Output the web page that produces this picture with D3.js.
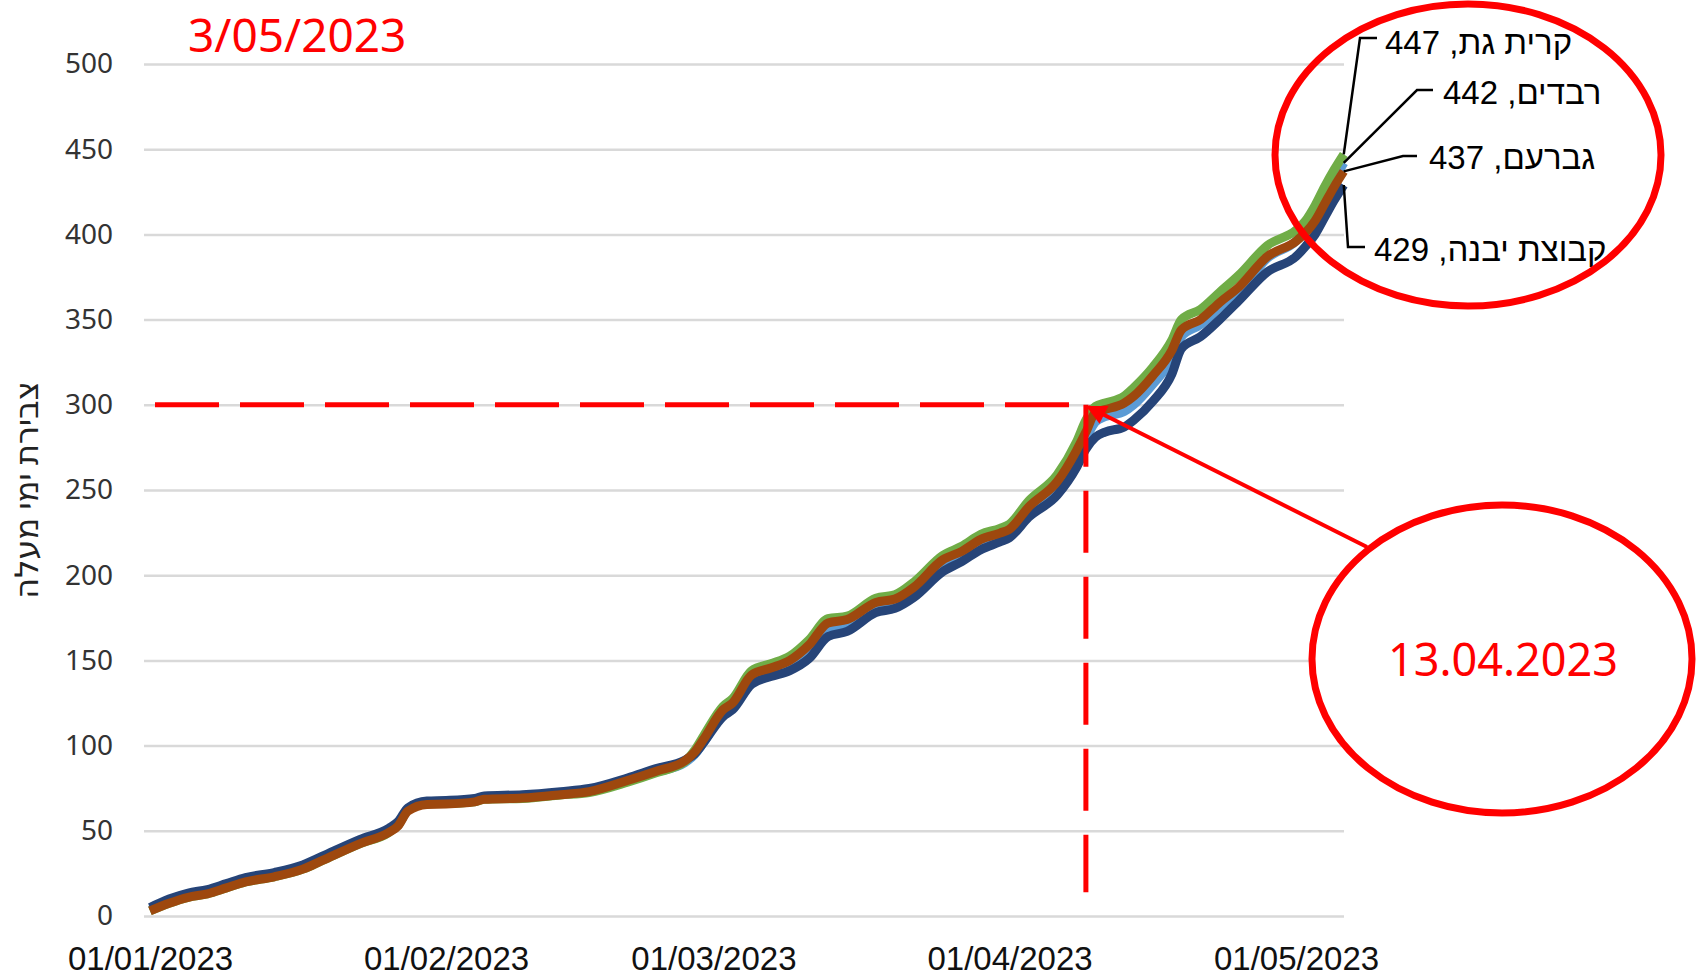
<!DOCTYPE html>
<html>
<head>
<meta charset="utf-8">
<script src="https://cdn.jsdelivr.net/npm/d3@7"></script>
<style>
  body { margin: 0; background: #fff; }
  svg { display: block; }
</style>
</head>
<body>
<svg id="chart"></svg>
<script>
// ---- data ----
const START_DATE = "2023-01-01";
// day offsets from START_DATE
const DAY_OFFSETS = [0, 2, 4, 6, 8, 10, 13, 16, 18, 22, 25, 26, 27, 29, 31, 34, 35, 39, 43, 46, 50, 53, 56, 57, 58, 60,
  61, 63, 65, 67, 69, 71, 73, 76, 78, 80, 83, 85, 87, 89, 90, 92, 95, 97, 98, 99, 100, 102, 103, 105, 107,
  108, 110, 112, 114, 117, 120, 121, 122, 123, 124, 125];

const REVADIM = [3.5, 8, 11.5, 13.5, 17, 20.5, 23.5, 28, 33, 43, 49.5, 53.5, 62, 66, 66.2, 67.5, 69, 69.7, 71.7, 73.5, 79.5,
  84.5, 90, 94.5, 102, 119, 123, 139, 143, 147.5, 156, 169, 171, 181.5, 183.5, 190.5, 206, 211.5, 218.5, 222.5, 225,
  238, 252, 269, 280, 290, 293, 296, 300, 312, 327, 340, 347, 357, 366, 386, 396, 402, 411, 421, 432, 442];
const KIRYAT_GAT = [3, 7.5, 11, 13, 16.5, 20, 23, 27.5, 32.5, 42.5, 49, 53.5, 62.5, 66, 66, 67, 68.5, 69, 71, 72.5, 78.5,
  84, 90.5, 97, 106, 123, 127.5, 144, 148, 152.5, 162, 174.5, 176, 186.5, 188.5, 196, 211.5, 217, 224, 227.5, 230,
  243.5, 259, 278, 291, 299, 301, 305, 310, 322, 338, 350, 356, 366, 376, 393.5, 402.5, 408, 417, 428, 438, 447];
const YAVNE = [5, 10, 13.5, 15.5, 19, 22.5, 25.5, 30, 35, 45, 51.5, 55.5, 63.5, 67.5, 67.8, 69, 70.5, 71.2, 73, 74.8, 81,
  86.5, 91.5, 95, 102, 117, 121, 136, 140.5, 144, 151, 164, 167, 178, 180.5, 187, 202, 208, 215, 219.5, 222,
  234, 247, 263, 274, 281, 284, 287, 291, 302, 318, 333, 340, 350, 361, 378, 387, 393, 400, 410, 420, 429];
const GEVARAM = [3, 7.5, 11, 13, 16.5, 20, 23, 27.5, 32.5, 42.5, 49, 53, 61.5, 65.5, 65.7, 67, 68.5, 69.2, 71.2, 73, 79.5,
  85, 91, 96, 104, 121, 125, 141.5, 145.5, 150, 159, 172, 174, 184, 186, 193, 209, 214, 221, 224.7, 227,
  240, 255, 273, 284, 295.5, 297.2, 301, 305, 317, 332, 344, 350, 360, 369, 387, 396, 401, 408, 418, 428, 437];

// drawn in this order (last on top)
const SERIES_NAMES = ["רבדים", "קרית גת", "קבוצת יבנה", "גברעם"];
const SERIES_VALUES = [REVADIM, KIRYAT_GAT, YAVNE, GEVARAM];
const SERIES_COLORS = ["#5b9bd5", "#70ad47", "#264478", "#9e480e"];

const Y_TICKS = [0, 50, 100, 150, 200, 250, 300, 350, 400, 450, 500];
const X_TICKS = ["2023-01-01", "2023-02-01", "2023-03-01", "2023-04-01", "2023-05-01"];

const Y_TITLE = "צבירת ימי מעלה";
const TITLE = "3/05/2023";
const ANNOT_TEXT = "13.04.2023";
const ANNOT_DAY = 98;      // where the curves cross 300 on the axis
const ANNOT_VALUE = 300;
const ANNOT_BOTTOM = 14;

// ---- layout ----
const SIZE = { width: 1700, height: 980 };
const PLOT = { left: 144, right: 1344, top: 64, bottom: 916 };
const RED = "#ff0000";

const parse = d3.utcParse("%Y-%m-%d");
const start = parse(START_DATE);
const dayDate = d => d3.utcDay.offset(start, d);

const xScale = d3.scaleUtc()
  .domain([parse("2023-01-01"), parse("2023-05-01")])
  .range([150, 1296]);
const yScale = d3.scaleLinear().domain([0, 500]).range([PLOT.bottom, PLOT.top]);

const svg = d3.select("#chart").attr("width", SIZE.width).attr("height", SIZE.height);
svg.append("rect").attr("width", SIZE.width).attr("height", SIZE.height).attr("fill", "#fff");

// y axis + gridlines
const yAxis = d3.axisLeft(yScale).tickValues(Y_TICKS)
  .tickSize(-(PLOT.right - PLOT.left)).tickPadding(31);
const yG = svg.append("g").attr("transform", `translate(${PLOT.left},0)`).call(yAxis);
yG.select(".domain").remove();
yG.selectAll(".tick line").attr("stroke", "#d9d9d9").attr("stroke-width", 2.5);
yG.selectAll(".tick text")
  .attr("fill", "#333")
  .style("font-family", "'Noto Sans', 'Open Sans', sans-serif")
  .style("font-size", "28px");

// x axis
const xAxis = d3.axisBottom(xScale)
  .tickValues(X_TICKS.map(parse))
  .tickFormat(d3.utcFormat("%d/%m/%Y"))
  .tickSize(0).tickPadding(31);
const xG = svg.append("g").attr("transform", `translate(0,${PLOT.bottom})`).call(xAxis);
xG.select(".domain").remove();
xG.selectAll(".tick text")
  .attr("fill", "#111")
  .style("font-family", "'Liberation Sans', Arial, sans-serif")
  .style("font-size", "33px");

// y title
svg.append("text")
  .attr("transform", "translate(38,490) rotate(-90)")
  .attr("direction", "rtl")
  .attr("text-anchor", "middle")
  .attr("fill", "#222")
  .style("font-family", "'Noto Sans', 'DejaVu Sans', sans-serif")
  .style("font-size", "32px")
  .text(Y_TITLE);

// series
const line = d3.line()
  .x(d => xScale(d.date))
  .y(d => yScale(d.value))
  .curve(d3.curveMonotoneX);

const series = SERIES_NAMES.map((name, i) => ({
  name: name,
  color: SERIES_COLORS[i],
  points: DAY_OFFSETS.map((d, j) => ({ date: dayDate(d), value: SERIES_VALUES[i][j] }))
}));

svg.append("g").selectAll("path").data(series).enter().append("path")
  .attr("d", d => line(d.points))
  .attr("fill", "none")
  .attr("stroke", d => d.color)
  .attr("stroke-width", 9)
  .attr("stroke-linejoin", "round");

// red dashed guide lines
const ax = xScale(dayDate(ANNOT_DAY));
const ay = yScale(ANNOT_VALUE);
svg.append("line")
  .attr("x1", xScale(dayDate(0)) + 5).attr("x2", ax)
  .attr("y1", ay).attr("y2", ay)
  .attr("stroke", RED).attr("stroke-width", 5).attr("stroke-dasharray", "64,21");
svg.append("line")
  .attr("x1", ax).attr("x2", ax)
  .attr("y1", ay).attr("y2", yScale(ANNOT_BOTTOM))
  .attr("stroke", RED).attr("stroke-width", 5).attr("stroke-dasharray", "62,24");

// arrow + callout ellipse
svg.append("defs").append("marker")
  .attr("id", "arrow")
  .attr("viewBox", "0 0 10 10")
  .attr("refX", 9).attr("refY", 5)
  .attr("markerWidth", 6).attr("markerHeight", 5)
  .attr("markerUnits", "strokeWidth")
  .attr("orient", "auto")
  .append("path").attr("d", "M0,0 L10,5 L0,10 Z").attr("fill", RED);

svg.append("line")
  .attr("x1", 1367).attr("y1", 547)
  .attr("x2", ax + 2).attr("y2", ay + 2)
  .attr("stroke", RED).attr("stroke-width", 4)
  .attr("marker-end", "url(#arrow)");

svg.append("ellipse")
  .attr("cx", 1502).attr("cy", 659).attr("rx", 190).attr("ry", 154)
  .attr("fill", "#fff").attr("stroke", RED).attr("stroke-width", 7);
svg.append("text")
  .attr("x", 1503).attr("y", 676)
  .attr("text-anchor", "middle")
  .attr("fill", RED)
  .style("font-family", "'Noto Sans', 'Open Sans', sans-serif")
  .style("font-size", "45px")
  .text(ANNOT_TEXT);

// title
svg.append("text")
  .attr("x", 188).attr("y", 52)
  .attr("fill", RED)
  .style("font-family", "'Noto Sans', 'Open Sans', sans-serif")
  .style("font-size", "46px")
  .text(TITLE);

// end labels with leader lines
const LABEL_LAYOUT = [
  { series: 1, elbow: [1360, 38], end: [1377, 38], text: [1385, 54] },
  { series: 0, elbow: [1417, 90], end: [1433, 90], text: [1443, 104] },
  { series: 3, elbow: [1403, 156], end: [1417, 156], text: [1429, 169] },
  { series: 2, elbow: [1348, 247], end: [1365, 247], text: [1374, 261] },
];
const lastDate = dayDate(DAY_OFFSETS[DAY_OFFSETS.length - 1]);
const labelG = svg.append("g");
LABEL_LAYOUT.forEach(l => {
  const vals = SERIES_VALUES[l.series];
  const last = vals[vals.length - 1];
  labelG.append("path")
    .attr("d", d3.line()([[xScale(lastDate), yScale(last)], l.elbow, l.end]))
    .attr("fill", "none").attr("stroke", "#000").attr("stroke-width", 2.5);
  labelG.append("text")
    .attr("x", l.text[0]).attr("y", l.text[1])
    .attr("direction", "rtl")
    .attr("text-anchor", "end")
    .attr("fill", "#000")
    .style("font-family", "'Liberation Sans', Arial, sans-serif")
    .style("font-size", "33px")
    .text(`${SERIES_NAMES[l.series]}, ${last}`);
});

// circle around the end labels
svg.append("ellipse")
  .attr("cx", 1468).attr("cy", 155).attr("rx", 193).attr("ry", 151)
  .attr("fill", "none").attr("stroke", RED).attr("stroke-width", 7);
</script>
</body>
</html>
